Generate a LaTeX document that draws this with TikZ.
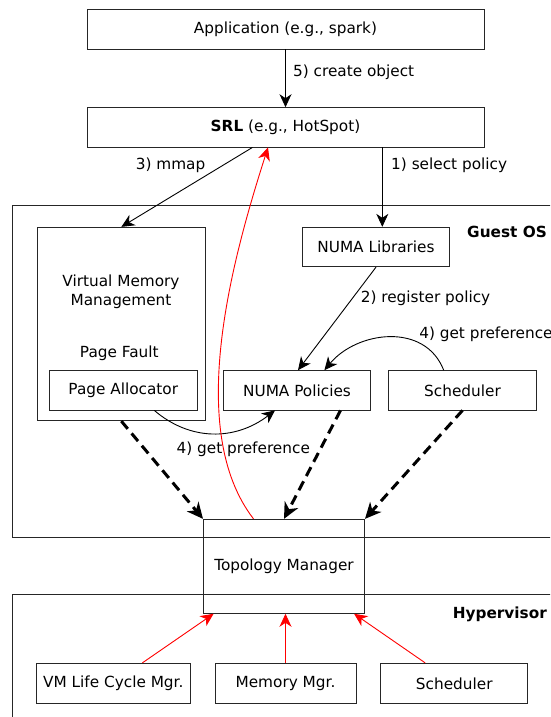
\documentclass[tikz,border=0pt]{standalone}
\usepackage{fontspec}
\setmainfont{DejaVu Sans}
\usetikzlibrary{arrows.meta}
\colorlet{edge}{black!85}
\tikzset{
  box/.style={draw=edge, line width=0.9pt, inner sep=0pt, font=\fontsize{15.3}{18}\selectfont},
  lbl/.style={inner sep=0pt, font=\fontsize{15.3}{18}\selectfont},
  thin/.style={line width=0.9pt, -{Stealth[length=13pt,width=12pt,inset=4pt]}},
  redarr/.style={red, line width=0.9pt, -{Stealth[length=13pt,width=12pt,inset=4pt]}},
  thickdash/.style={line width=3pt, dash pattern=on 10pt off 6pt, -{Stealth[length=16pt,width=15pt,inset=5pt]}},
  layer/.style={draw=edge, line width=0.9pt},
}
\begin{document}
\begin{tikzpicture}[x=1pt,y=-1pt]
\useasboundingbox (0,0) rectangle (550,717);
\clip (0,0) rectangle (550,717);
\fill[white] (0,0) rectangle (550,717);
% layers
\draw[layer] (12.3,205.7) rectangle (600,537.7);
\draw[layer] (12.3,594) rectangle (600,760);
\node[lbl, anchor=east, font=\fontsize{15.3}{18}\selectfont\bfseries] (guest) at (547,232) {Guest OS};
\node[lbl, anchor=east, font=\fontsize{15.3}{18}\selectfont\bfseries] (hyper) at (547,614) {Hypervisor};
% nodes
\node[box, minimum width=397pt, minimum height=39.7pt] (app) at (285.5,29.2) {Application (e.g., spark)};
\node[box, minimum width=397pt, minimum height=39.3pt] (srl) at (285.5,127.3) {\textbf{SRL} (e.g., HotSpot)};
\node[box, minimum width=167.7pt, minimum height=193.4pt] (vmm) at (121.35,324) {};
\node[lbl, align=center] (vmmtxt) at (121,291.5) {Virtual Memory\\[1pt]Management};
\node[lbl] (pf) at (119.3,353.3) {Page Fault};
\node[box, minimum width=147.3pt, minimum height=39.4pt] (numalib) at (376,247) {NUMA Libraries};
\node[box, minimum width=147.6pt, minimum height=39.3pt] (palloc) at (123.3,390.3) {Page Allocator};
\node[box, minimum width=147.3pt, minimum height=39.3pt] (numapol) at (297,390.3) {NUMA Policies};
\node[box, minimum width=148.4pt, minimum height=39.3pt] (schedg) at (462.5,390.3) {Scheduler};
\node[box, minimum width=161.1pt, minimum height=94pt] (topo) at (284,566.3) {Topology Manager};
\node[box, minimum width=154.6pt, minimum height=40pt] (vmlife) at (113.3,683.3) {VM Life Cycle Mgr.};
\node[box, minimum width=141pt, minimum height=40pt] (memmgr) at (285.5,683.3) {Memory Mgr.};
\node[box, minimum width=147.3pt, minimum height=40pt] (schedh) at (454.25,683.3) {Scheduler};
% connectors
\draw[thin] (app.south) -- (srl.north);
\node[lbl, anchor=west] (l5) at (292.9,72.3) {5) create object};
\draw[thin] ([xshift=-33pt]srl.south) -- (vmm.north);
\node[lbl] (l3) at (170.6,165.7) {3) mmap};
\draw[thin] ([xshift=96.8pt]srl.south) -- ([xshift=96.8pt]srl.south |- numalib.north);
\node[lbl, anchor=west] (l1) at (391,165.7) {1) select policy};
\draw[thin] (numalib.south) -- ([xshift=1pt]numapol.north);
\node[lbl, anchor=west] (l2) at (360.6,298.3) {2) register policy};
\draw[thin] ([xshift=-18.8pt]schedg.north) .. controls (425,322) and (357,331) .. ([xshift=27.4pt]numapol.north);
\node[lbl, anchor=west] (l4a) at (419.1,334.3) {4) get preference};
\draw[thin] ([xshift=31pt]palloc.south) .. controls (190,441) and (235,441) .. ([xshift=-22pt]numapol.south);
\draw[redarr] ([xshift=-30.5pt]topo.north) .. controls (185,430) and (232,260) .. ([xshift=-17.5pt]srl.south);
\node[lbl, anchor=west] (l4b) at (176.4,449.3) {4) get preference};
\draw[thickdash] (vmm.south) -- (topo.north west);
\draw[thickdash] ([xshift=43.5pt]numapol.south) -- (topo.north);
\draw[thickdash] (schedg.south) -- (topo.north east);
\draw[redarr] ([xshift=29.1pt]vmlife.north) -- ([xshift=10.6pt]topo.south west);
\draw[redarr] (memmgr.north) -- (memmgr.north |- topo.south);
\draw[redarr] ([xshift=-29.1pt]schedh.north) -- ([xshift=-10.9pt]topo.south east);
\end{tikzpicture}
\end{document}
